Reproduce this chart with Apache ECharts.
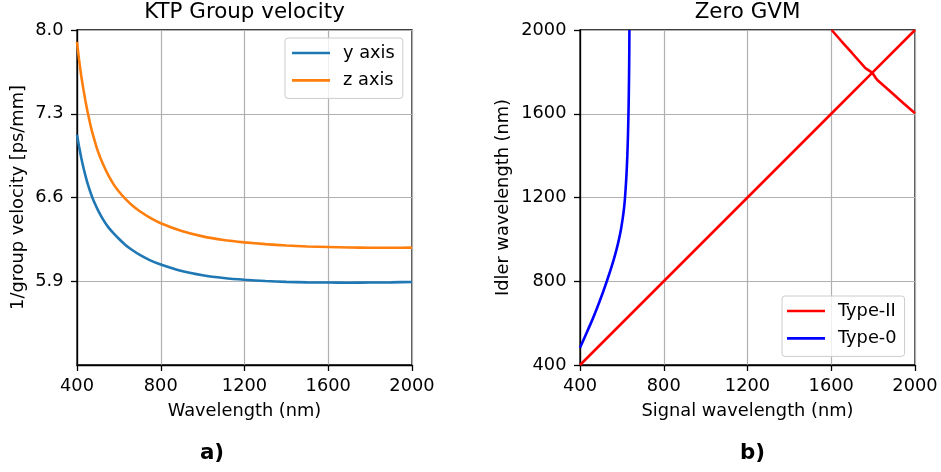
<!DOCTYPE html>
<html><head><meta charset="utf-8">
<script src="https://cdn.jsdelivr.net/npm/echarts@6/dist/echarts.min.js"></script>
<style>html,body{margin:0;padding:0;background:#fff}#c{width:941px;height:472px}</style>
</head><body><div id="c"></div>
<script>
// ---- Panel a) KTP group velocity ----
const wavelength = [400, 410, 420, 430, 440, 450, 465, 480, 500, 525, 550, 575, 600, 630, 660, 700, 750, 800, 900, 1000, 1100, 1200, 1300, 1400, 1500, 1600, 1700, 1800, 1900, 2000];
const yAxisInvVg = [7.125, 7.025, 6.935, 6.855, 6.785, 6.72, 6.64, 6.57, 6.495, 6.415, 6.35, 6.30, 6.255, 6.205, 6.165, 6.12, 6.075, 6.04, 5.985, 5.95, 5.927, 5.912, 5.902, 5.895, 5.891, 5.889, 5.888, 5.889, 5.891, 5.894];
const zAxisInvVg = [7.90, 7.75, 7.62, 7.51, 7.41, 7.32, 7.20, 7.10, 6.985, 6.875, 6.785, 6.71, 6.65, 6.59, 6.54, 6.485, 6.43, 6.385, 6.32, 6.275, 6.245, 6.225, 6.21, 6.199, 6.191, 6.186, 6.182, 6.18, 6.18, 6.181];
const invVgTicks = [5.9, 6.6, 7.3, 8.0];
const wavelengthTicks = [400, 800, 1200, 1600, 2000];

// ---- Panel b) Zero GVM ----
const type2DiagSignal = [400, 800, 1200, 1600, 1800, 2000];
const type2DiagIdler = [400, 800, 1200, 1600, 1800, 2000];
const type2CrossSignal = [1602, 1650, 1700, 1761, 1772, 1790, 1800, 1812, 1820, 1889, 1945, 2000];
const type2CrossIdler = [2000, 1945, 1889, 1820, 1812, 1800, 1790, 1772, 1761, 1700, 1650, 1602];
const type0Signal = [400, 425.5, 452, 472.5, 492, 510.5, 528, 544.5, 560, 574, 586, 596, 604, 610.5, 615, 621.5, 626, 629.2, 631.5, 633.2, 634.5, 635.4, 636];
const type0Idler = [482, 540, 600, 650, 700, 750, 800, 850, 900, 950, 1000, 1050, 1100, 1150, 1200, 1300, 1400, 1500, 1600, 1700, 1800, 1900, 2000];

const zip = (a, b) => a.map((v, i) => [v, b[i]]);
const FONT = 'DejaVu Sans';
const FS = 17.8;

function axisCommon(extra) {
  return Object.assign({
    type: 'value',
    axisLine: { show: true, onZero: false, lineStyle: { color: '#000', width: 1.3 } },
    axisTick: { show: true, inside: false, length: 6, lineStyle: { color: '#000', width: 1.3 } },
    splitLine: { show: true, lineStyle: { color: '#b0b0b0', width: 1.2 } },
    nameTextStyle: { fontFamily: FONT, fontSize: FS, color: '#000' },
    nameLocation: 'middle'
  }, extra);
}
const intFmt = v => String(Math.round(v));
const xLabel = { fontFamily: FONT, fontSize: FS, color: '#000', margin: 12, formatter: intFmt };
const yLabel = { fontFamily: FONT, fontSize: FS, color: '#000', margin: 13.5, formatter: intFmt };

const legendBase = {
  orient: 'vertical', icon: 'rect', itemWidth: 38, itemHeight: 2.6, itemGap: 9.4,
  borderColor: '#cccccc', borderWidth: 1, borderRadius: 3,
  backgroundColor: 'rgba(255,255,255,0.8)',
  textStyle: { fontFamily: FONT, fontSize: FS, color: '#000', lineHeight: 18, padding: [0, 0, 0, 8] }
};

const option = {
  animation: false,
  backgroundColor: '#fff',
  grid: [
    { left: 77, top: 30, width: 335, height: 335, show: true, borderColor: '#000', borderWidth: 1.3, backgroundColor: 'transparent' },
    { left: 580, top: 30, width: 335, height: 335, show: true, borderColor: '#000', borderWidth: 1.3, backgroundColor: 'transparent' }
  ],
  xAxis: [
    axisCommon({ gridIndex: 0, min: 400, max: 2000, interval: 400, name: 'Wavelength (nm)', nameGap: 37.5, axisLabel: xLabel }),
    axisCommon({ gridIndex: 1, min: 400, max: 2000, interval: 400, name: 'Signal wavelength (nm)', nameGap: 37.5, axisLabel: xLabel })
  ],
  yAxis: [
    axisCommon({ gridIndex: 0, min: 5.2, max: 8.0, name: '1/group velocity [ps/mm]', nameGap: 50,
      axisLabel: Object.assign({}, yLabel, { customValues: invVgTicks, formatter: v => v.toFixed(1) }),
      axisTick: { show: true, inside: false, length: 6, customValues: invVgTicks, lineStyle: { color: '#000', width: 1.3 } }
    }),
    axisCommon({ gridIndex: 1, min: 400, max: 2000, interval: 400, name: 'Idler wavelength (nm)', nameGap: 68, axisLabel: yLabel })
  ],
  legend: [
    Object.assign({}, legendBase, { left: 285, top: 38, padding: [6, 8, 9, 7], data: ['y axis', 'z axis'] }),
    Object.assign({}, legendBase, { left: 782, top: 296, padding: [6, 8, 9, 5], data: ['Type-II', 'Type-0'] })
  ],
  graphic: [
    { type: 'text', x: 244.5, y: 12, style: { text: 'KTP Group velocity', fontFamily: FONT, fontSize: 21.4, fill: '#000', align: 'center', verticalAlign: 'middle' } },
    { type: 'text', x: 747.5, y: 12, style: { text: 'Zero GVM', fontFamily: FONT, fontSize: 21.4, fill: '#000', align: 'center', verticalAlign: 'middle' } },
    { type: 'text', x: 212, y: 453, style: { text: 'a)', fontFamily: FONT, fontSize: 21.4, fontWeight: 'bold', fill: '#000', align: 'center', verticalAlign: 'middle' } },
    { type: 'text', x: 752.5, y: 453, style: { text: 'b)', fontFamily: FONT, fontSize: 21.4, fontWeight: 'bold', fill: '#000', align: 'center', verticalAlign: 'middle' } }
  ],
  series: [
    { name: 'y axis', type: 'line', xAxisIndex: 0, yAxisIndex: 0, data: zip(wavelength, yAxisInvVg), showSymbol: false, symbol: 'none', smooth: 0.2, lineStyle: { color: '#1f77b4', width: 2.6 }, itemStyle: { color: '#1f77b4' } },
    { name: 'z axis', type: 'line', xAxisIndex: 0, yAxisIndex: 0, data: zip(wavelength, zAxisInvVg), showSymbol: false, symbol: 'none', smooth: 0.2, lineStyle: { color: '#ff7f0e', width: 2.6 }, itemStyle: { color: '#ff7f0e' } },
    { name: 'Type-II', type: 'line', xAxisIndex: 1, yAxisIndex: 1, data: zip(type2DiagSignal, type2DiagIdler), showSymbol: false, symbol: 'none', lineStyle: { color: '#ff0000', width: 2.6 }, itemStyle: { color: '#ff0000' } },
    { name: 'Type-II', type: 'line', xAxisIndex: 1, yAxisIndex: 1, data: zip(type2CrossSignal, type2CrossIdler), showSymbol: false, symbol: 'none', lineStyle: { color: '#ff0000', width: 2.6 }, itemStyle: { color: '#ff0000' } },
    { name: 'Type-0', type: 'line', xAxisIndex: 1, yAxisIndex: 1, data: zip(type0Signal, type0Idler), showSymbol: false, symbol: 'none', smooth: 0.3, lineStyle: { color: '#0000ff', width: 2.6 }, itemStyle: { color: '#0000ff' } }
  ]
};
const chart = echarts.init(document.getElementById('c'), null, { renderer: 'canvas' });
chart.setOption(option);
</script>
</body></html>
